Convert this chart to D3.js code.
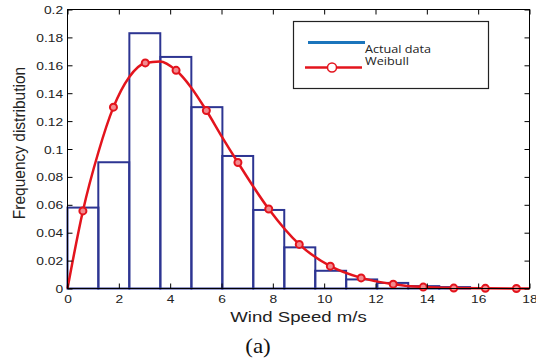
<!DOCTYPE html>
<html>
<head>
<meta charset="utf-8">
<script src="https://cdn.jsdelivr.net/npm/d3@7"></script>
<style>
  body { margin: 0; background: #fff; }
  svg { display: block; }
</style>
</head>
<body>
<div id="chart"></div>
<script>
var width = 536;
var height = 362;
var plotLeft = 67.5, plotRight = 529.5, plotTop = 9.5, plotBottom = 288.5;
var stretch = 1.2;

// histogram: left edge of each bin and its frequency
var binLeft = [0, 1.2, 2.41, 3.62, 4.83, 6.03, 7.24, 8.45, 9.65, 10.86, 12.07, 13.28, 14.48];
var binWidth = 1.205;
var binFreq = [0.058, 0.0905, 0.183, 0.166, 0.130, 0.095, 0.0563, 0.0295, 0.0127, 0.0065, 0.004, 0.0017, 0.001];

// weibull fit, marker points and extra points along the curve
var markerX = [0.6, 1.79, 3.03, 4.23, 5.41, 6.64, 7.84, 9.03, 10.24, 11.44, 12.69, 13.86, 15.05, 16.28, 17.49];
var markerY = [0.0556, 0.130, 0.1617, 0.1564, 0.1276, 0.0903, 0.057, 0.0316, 0.016, 0.0076, 0.0031, 0.001, 0.0003, 0.0001, 0];
var curveX = [0, 0.6, 1.2, 1.79, 2.4, 3.03, 3.6, 4.23, 4.8, 5.41, 6.0, 6.64, 7.84, 9.03, 10.24, 11.44, 12.69, 13.86, 15.05, 16.28, 17.49, 18];
var curveY = [0, 0.0556, 0.0975, 0.130, 0.1515, 0.1617, 0.1628, 0.1564, 0.1445, 0.1276, 0.1093, 0.0903, 0.057, 0.0316, 0.016, 0.0076, 0.0031, 0.001, 0.0003, 0.0001, 0, 0];

var xTicks = [0, 2, 4, 6, 8, 10, 12, 14, 16, 18];
var yTicks = [0, 0.02, 0.04, 0.06, 0.08, 0.1, 0.12, 0.14, 0.16, 0.18, 0.2];

var svg = d3.select("#chart").append("svg")
    .attr("width", width)
    .attr("height", height);

svg.append("rect").attr("width", width).attr("height", height).attr("fill", "#fff");

var xScale = d3.scaleLinear().domain([0, 18]).range([plotLeft, plotRight]);
var yScale = d3.scaleLinear().domain([0, 0.2]).range([plotBottom, plotTop]);

var tickFont = "'Liberation Sans', Arial, sans-serif";

// bars
svg.append("g").selectAll("rect")
    .data(binFreq).enter().append("rect")
    .attr("x", function (d, i) { return xScale(binLeft[i]); })
    .attr("y", function (d) { return yScale(d); })
    .attr("width", function (d, i) { return xScale(binLeft[i] + binWidth) - xScale(binLeft[i]); })
    .attr("height", function (d) { return plotBottom - yScale(d); })
    .attr("fill", "none")
    .attr("stroke", "#2d3592")
    .attr("stroke-width", 2);

// weibull curve
var pts = curveX.map(function (x, i) { return [x, curveY[i]]; });
var line = d3.line()
    .x(function (d) { return xScale(d[0]); })
    .y(function (d) { return yScale(d[1]); })
    .curve(d3.curveMonotoneX);
svg.append("path")
    .datum(pts)
    .attr("d", line)
    .attr("fill", "none")
    .attr("stroke", "#e3141d")
    .attr("stroke-width", 2.5);

svg.append("g").selectAll("circle")
    .data(markerX).enter().append("circle")
    .attr("cx", function (d) { return xScale(d); })
    .attr("cy", function (d, i) { return yScale(markerY[i]); })
    .attr("r", 3.5)
    .attr("fill", "#f28a8f")
    .attr("stroke", "#e3141d")
    .attr("stroke-width", 2);

// frame
svg.append("rect")
    .attr("x", plotLeft).attr("y", plotTop)
    .attr("width", plotRight - plotLeft).attr("height", plotBottom - plotTop)
    .attr("fill", "none").attr("stroke", "#000").attr("stroke-width", 1);

// axes, ticks pointing inward
var xAxis = d3.axisBottom(xScale).tickValues(xTicks).tickSize(-5).tickSizeOuter(0);
var gx = svg.append("g").attr("transform", "translate(0," + plotBottom + ")").call(xAxis);
gx.selectAll("text")
    .attr("y", 14.5).attr("dy", 0)
    .attr("transform", "scale(" + stretch + ",1)")
    .style("font-family", tickFont).style("font-size", "11.5px").attr("fill", "#222");

var yAxis = d3.axisLeft(yScale).tickValues(yTicks).tickSize(-5).tickSizeOuter(0)
    .tickFormat(function (d) { return String(+d.toFixed(2)); });
var gy = svg.append("g").attr("transform", "translate(" + plotLeft + ",0)").call(yAxis);
gy.selectAll("text")
    .attr("x", -3.7).attr("dy", "0.35em")
    .attr("transform", "scale(" + stretch + ",1)")
    .style("font-family", tickFont).style("font-size", "11.5px").attr("fill", "#222");

svg.append("g").attr("transform", "translate(0," + plotTop + ")")
    .call(d3.axisTop(xScale).tickValues(xTicks).tickSize(-5).tickSizeOuter(0).tickFormat(""));
svg.append("g").attr("transform", "translate(" + plotRight + ",0)")
    .call(d3.axisRight(yScale).tickValues(yTicks).tickSize(-5).tickSizeOuter(0).tickFormat(""));

svg.selectAll(".domain").remove();
svg.selectAll(".tick line").attr("stroke", "#000");

// axis titles
svg.append("text")
    .attr("transform", "translate(" + ((plotLeft + plotRight) / 2) + ",322) scale(" + stretch + ",1)")
    .attr("text-anchor", "middle")
    .style("font-family", tickFont).style("font-size", "15.5px").attr("fill", "#222")
    .text("Wind Speed m/s");

svg.append("text")
    .attr("transform", "translate(25,143) scale(1.1,1) rotate(-90)")
    .attr("text-anchor", "middle")
    .style("font-family", tickFont).style("font-size", "15.5px").attr("fill", "#222")
    .text("Frequency distribution");

svg.append("text")
    .attr("transform", "translate(258,353) scale(1.15,1)")
    .attr("text-anchor", "middle")
    .style("font-family", "'Liberation Serif', 'Times New Roman', serif").style("font-size", "20px").attr("fill", "#111")
    .text("(a)");

// legend
var legend = svg.append("g");
legend.append("rect")
    .attr("x", 293.5).attr("y", 21.5).attr("width", 195).attr("height", 67)
    .attr("fill", "#fff").attr("stroke", "#222").attr("stroke-width", 1.2);
legend.append("line")
    .attr("x1", 308).attr("x2", 365).attr("y1", 42.5).attr("y2", 42.5)
    .attr("stroke", "#1b75bc").attr("stroke-width", 3);
legend.append("line")
    .attr("x1", 305).attr("x2", 362).attr("y1", 67.5).attr("y2", 67.5)
    .attr("stroke", "#e3141d").attr("stroke-width", 2.5);
legend.append("circle")
    .attr("cx", 332).attr("cy", 67.5).attr("r", 4.5)
    .attr("fill", "#fff").attr("stroke", "#e3141d").attr("stroke-width", 1.5);
legend.append("text")
    .attr("transform", "translate(365,53) scale(1.15,1)")
    .style("font-family", "'Open Sans', sans-serif").style("font-size", "11px").attr("fill", "#222")
    .text("Actual data");
legend.append("text")
    .attr("transform", "translate(365,65) scale(1.15,1)")
    .style("font-family", "'Open Sans', sans-serif").style("font-size", "11px").attr("fill", "#222")
    .text("Weibull");
</script>
</body>
</html>
